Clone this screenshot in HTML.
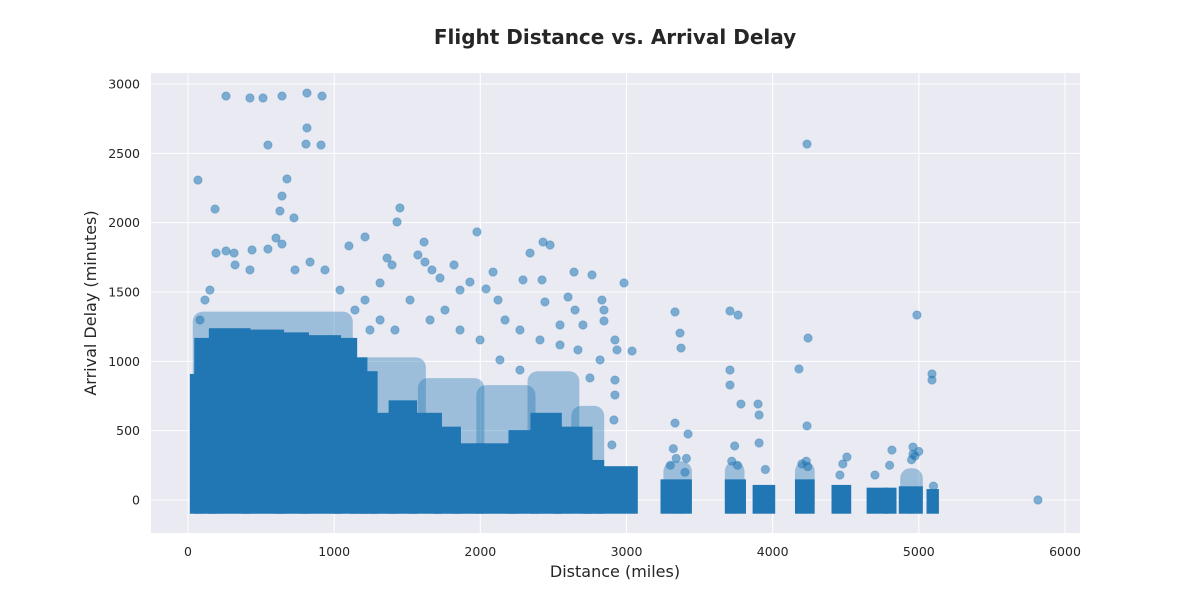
<!DOCTYPE html>
<html>
<head>
<meta charset="utf-8">
<style>
  html,body{margin:0;padding:0;background:#fff;}
  svg{display:block;font-family:"DejaVu Sans","Liberation Sans",sans-serif;}
</style>
</head>
<body>
<svg id="chart" width="1200" height="600" viewBox="0 0 1200 600">
  <rect x="0" y="0" width="1200" height="600" fill="#ffffff"></rect>
  <text x="615" y="44" text-anchor="middle" font-size="20" font-weight="bold" fill="#262626">Flight Distance vs. Arrival Delay</text>
  <rect x="151" y="73" width="929" height="460" fill="#eaeaf2"></rect>
  <g id="grid"></g>
  <g id="marks"></g>
  <g id="xticks"></g>
  <g id="yticks"></g>
  <text x="615" y="577" text-anchor="middle" font-size="16" fill="#262626">Distance (miles)</text>
  <text x="96" y="303" text-anchor="middle" font-size="16" fill="#262626" transform="rotate(-90 96 303)">Arrival Delay (minutes)</text>
</svg>
<script>
// ---- data ----
const xTicks = [0, 1000, 2000, 3000, 4000, 5000, 6000];
const yTicks = [0, 500, 1000, 1500, 2000, 2500, 3000];
// dense core of the scatter, summarised by distance bins
const binStart = [40,70,170,400,630,800,1020,1130,1200,1270,1400,1540,1710,1840,2000,2220,2370,2530,2740,2820,3260,3700,3890,4180,4430,4670,4790,4890,5080];
const binEnd   = [70,170,400,630,800,1020,1130,1200,1270,1400,1540,1710,1840,2000,2220,2370,2530,2740,2820,3050,3420,3790,3990,4260,4510,4760,4820,5000,5110];
const binTop   = [880,1140,1210,1200,1180,1160,1140,1000,900,600,690,600,500,380,380,475,600,500,260,215,120,120,80,120,80,60,60,70,50];
const binBottom = -70;
// semi-dense (overlapping translucent points) region
const hazeStart = [60,1130,1600,2000,2350,2650,3280,3700,4180,4900];
const hazeEnd   = [1100,1600,2000,2350,2650,2820,3420,3780,4260,5000];
const hazeTop   = [1330,1000,850,800,900,650,250,250,250,200];
// individual sparse points
const ptDist = [68,260,424,513,643,814,917,547,814,807,910,677,643,629,725,185,1450,1430,1977,4235,
  192,260,315,438,547,602,643,1615,1101,1211,1362,2429,2477,2340,2641,2764,2087,2292,2422,2983,1724,2039,1861,
  3332,3366,3373,3708,3763,4242,4987,5090,5090,4180,3708,3708,3783,3900,4235,3332,3421,3038,2846,2846,5815,3907,3907,4960,4816,4508,4974,
  1211,1314,1396,1573,1621,1669,1820,1929,2121,2169,2271,2442,2545,2600,2648,2702,2832,2921,2935,2921,2921,2914,2900,2819,2750,2668,2545,2408,2271,2134,1998,1861,1758,1656,1519,1416,1314,1245,1142,1040,937,835,732,424,322,116,82,150,
  3300,3340,3400,3720,3760,3950,4200,4240,4480,4700,4800,4950,5000,5100,3320,3410,3740,4230,4460,4960];
const ptDelay = [2307,2913,2899,2899,2913,2935,2913,2560,2683,2567,2560,2315,2192,2084,2034,2098,2106,2005,1933,2567,
  1781,1796,1781,1803,1810,1889,1846,1860,1832,1897,1745,1860,1839,1781,1644,1623,1644,1587,1587,1565,1601,1522,1514,
  1356,1204,1096,1363,1334,1168,1334,909,865,945,937,829,692,692,534,555,476,1074,1370,1291,0,613,411,382,360,310,317,
  1442,1565,1695,1767,1716,1659,1695,1572,1442,1298,1226,1428,1262,1464,1370,1262,1442,1154,1082,865,757,577,397,1010,880,1082,1118,1154,937,1010,1154,1226,1370,1298,1442,1226,1298,1226,1370,1514,1659,1716,1659,1659,1695,1442,1298,1514,
  250,300,200,280,250,220,260,240,260,180,250,290,350,100,370,300,390,280,180,330];

// ---- scales ----
const X0 = 188, XS = 877/6000, Y0 = 500, YS = 416/3000;
const sx = d => X0 + d*XS;
const sy = v => Y0 - v*YS;
const NS = "http://www.w3.org/2000/svg";
const grid = document.getElementById('grid');
const marks = document.getElementById('marks');
const xt = document.getElementById('xticks');
const yt = document.getElementById('yticks');

xTicks.forEach(t => {
  const l = document.createElementNS(NS,'line');
  l.setAttribute('x1', sx(t)); l.setAttribute('x2', sx(t));
  l.setAttribute('y1', 73); l.setAttribute('y2', 533);
  l.setAttribute('stroke', '#ffffff'); l.setAttribute('stroke-width', '1');
  
  
  grid.appendChild(l);
  const tx = document.createElementNS(NS,'text');
  tx.setAttribute('x', sx(t)); tx.setAttribute('y', 556);
  tx.setAttribute('text-anchor', 'middle'); tx.setAttribute('font-size', '12.5'); tx.setAttribute('fill', '#262626');
  tx.textContent = t;
  
  
  xt.appendChild(tx);
});
yTicks.forEach(t => {
  const l = document.createElementNS(NS,'line');
  l.setAttribute('x1', 151); l.setAttribute('x2', 1080);
  l.setAttribute('y1', sy(t)); l.setAttribute('y2', sy(t));
  l.setAttribute('stroke', '#ffffff'); l.setAttribute('stroke-width', '1');
  
  
  grid.appendChild(l);
  const tx = document.createElementNS(NS,'text');
  tx.setAttribute('x', 140); tx.setAttribute('y', sy(t)+4.5);
  tx.setAttribute('text-anchor', 'end'); tx.setAttribute('font-size', '12.5'); tx.setAttribute('fill', '#262626');
  tx.textContent = t;
  
  
  yt.appendChild(tx);
});

hazeStart.forEach((s, i) => {
  const r = document.createElementNS(NS,'rect');
  const x1 = sx(s) - 4, x2 = sx(hazeEnd[i]) + 4;
  const y1 = sy(hazeTop[i]) - 4, y2 = sy(binBottom) + 4;
  r.setAttribute('x', x1); r.setAttribute('y', y1);
  r.setAttribute('width', x2 - x1); r.setAttribute('height', y2 - y1);
  r.setAttribute('rx', 10);
  r.setAttribute('fill', '#1f77b4'); r.setAttribute('fill-opacity', '0.38');
  
  
  marks.appendChild(r);
});
binStart.forEach((s, i) => {
  const r = document.createElementNS(NS,'rect');
  const x1 = sx(s) - 4, x2 = sx(binEnd[i]) + 4;
  const y1 = sy(binTop[i]) - 4, y2 = sy(binBottom) + 4;
  r.setAttribute('x', x1); r.setAttribute('y', y1);
  r.setAttribute('width', x2 - x1); r.setAttribute('height', y2 - y1);
  r.setAttribute('fill', '#2077b4');
  
  
  marks.appendChild(r);
});
ptDist.forEach((d, i) => {
  const c = document.createElementNS(NS,'circle');
  c.setAttribute('cx', sx(d)); c.setAttribute('cy', sy(ptDelay[i]));
  c.setAttribute('r', 4.2);
  c.setAttribute('fill', '#1f77b4'); c.setAttribute('fill-opacity', '0.55');
  c.setAttribute('stroke', '#1f77b4'); c.setAttribute('stroke-opacity', '0.3');
  
  
  marks.appendChild(c);
});
</script>
</body>
</html>
